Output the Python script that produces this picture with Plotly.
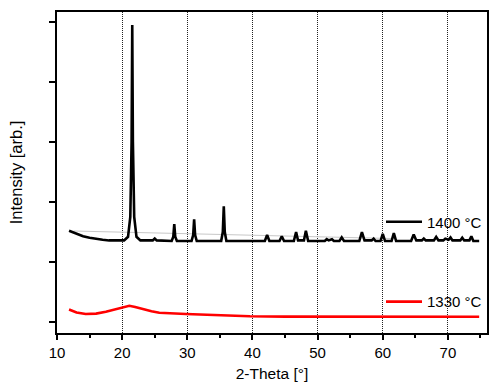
import plotly.graph_objects as go

# 1400 °C pattern (2-theta in degrees, intensity arb.)
x_1400 = [11.85, 13, 14, 15, 16, 17, 18, 19, 20.3, 20.9, 21.25, 21.45, 21.55, 21.65, 21.85, 22.2, 22.8,
          24.7, 25.0, 25.3, 27.6, 27.85, 28.0, 28.15, 28.4, 30.65, 30.9, 31.05, 31.2, 31.45,
          35.2, 35.45, 35.6, 35.75, 36.0, 41.9, 42.25, 42.6, 44.15, 44.5, 44.85, 46.35, 46.7, 47.0,
          47.9, 48.2, 48.55, 51.1, 51.4, 51.7, 52.2, 52.5, 53.35, 53.7, 54.05, 56.4, 56.8, 57.2,
          58.3, 58.6, 58.9, 59.65, 60.0, 60.35, 61.35, 61.7, 62.05, 64.35, 64.75, 65.15,
          66.0, 66.3, 66.6, 67.85, 68.2, 68.55, 69.3, 69.6, 69.9, 70.1, 70.4, 70.7,
          71.9, 72.2, 72.5, 73.3, 73.6, 73.9, 74.8]
y_1400 = [1.52, 1.47, 1.43, 1.405, 1.385, 1.37, 1.36, 1.355, 1.36, 1.42, 1.75, 3.0, 4.95, 3.0, 1.75, 1.42, 1.36,
          1.36, 1.39, 1.36, 1.35, 1.42, 1.63, 1.42, 1.35, 1.35, 1.45, 1.71, 1.45, 1.35,
          1.35, 1.5, 1.93, 1.5, 1.35, 1.35, 1.45, 1.35, 1.35, 1.43, 1.35, 1.35, 1.5, 1.36,
          1.36, 1.52, 1.35, 1.35, 1.38, 1.36, 1.38, 1.35, 1.35, 1.41, 1.35, 1.35, 1.50, 1.36,
          1.36, 1.39, 1.35, 1.35, 1.47, 1.35, 1.35, 1.48, 1.35, 1.35, 1.46, 1.36,
          1.36, 1.39, 1.36, 1.36, 1.42, 1.36, 1.36, 1.39, 1.37, 1.37, 1.41, 1.36,
          1.36, 1.405, 1.36, 1.36, 1.43, 1.35, 1.35]

# faint grey background line under the 1400 °C pattern
x_bg = [12.5, 62.0]
y_bg = [1.517, 1.39]

# 1330 °C pattern
x_1330 = [11.85, 13, 14.4, 16, 17.5, 19.5, 21.1, 22, 23.1, 24.5, 25.7, 27.5, 29.8, 33, 37, 39.6, 45, 55, 65, 74.8]
y_1330 = [0.21, 0.16, 0.133, 0.14, 0.17, 0.22, 0.27, 0.25, 0.217, 0.18, 0.155, 0.143, 0.133, 0.12, 0.105,
          0.095, 0.09, 0.088, 0.088, 0.088]

x_ticks = [10, 20, 30, 40, 50, 60, 70]
y_ticks = [0, 1, 2, 3, 4, 5]

FONT = "Arial, Liberation Sans, Helvetica, sans-serif"

fig = go.Figure()
fig.add_trace(go.Scatter(x=x_bg, y=y_bg, mode="lines", line=dict(color="#c8c8c8", width=1),
                         showlegend=False, hoverinfo="skip"))
fig.add_trace(go.Scatter(x=x_1400, y=y_1400, mode="lines", name="1400 °C",
                         line=dict(color="black", width=2.6), legend="legend"))
fig.add_trace(go.Scatter(x=x_1330, y=y_1330, mode="lines", name="1330 °C",
                         line=dict(color="#ff0000", width=2.6), legend="legend2"))

legend_common = dict(font=dict(family=FONT, size=15, color="black"), bgcolor="rgba(0,0,0,0)",
                     xanchor="right", yanchor="middle", itemwidth=36, borderwidth=0)

fig.update_layout(
    width=500, height=382,
    margin=dict(l=57, r=13, t=12, b=49),
    paper_bgcolor="white", plot_bgcolor="white",
    font=dict(family=FONT, size=15, color="black"),
    legend=dict(x=1.0, y=0.346, **legend_common),
    legend2=dict(x=1.0, y=0.097, **legend_common),
    xaxis=dict(
        range=[10, 76], tickvals=x_ticks, ticktext=[str(v) for v in x_ticks],
        ticks="outside", ticklen=5, tickwidth=1.5, tickcolor="black",
        minor=dict(dtick=5, tick0=0, ticks="outside", ticklen=3, tickwidth=1.5, tickcolor="black", showgrid=False),
        showline=True, linewidth=2, linecolor="black", mirror=True,
        showgrid=True, gridcolor="#222222", griddash="1px,1px", gridwidth=1,
        zeroline=False, automargin=False,
        title=dict(text="2-Theta [°]", font=dict(size=15.5), standoff=8),
        tickfont=dict(size=15),
    ),
    yaxis=dict(
        range=[-0.183, 5.167], tickvals=y_ticks, showticklabels=False,
        ticks="outside", ticklen=6, tickwidth=1.5, tickcolor="black",
        showline=True, linewidth=2, linecolor="black", mirror=True,
        showgrid=False, zeroline=False, automargin=False,
        title=dict(text="Intensity [arb.]", font=dict(size=16.5), standoff=22),
    ),
)

fig.write_html("out.html", config={"displayModeBar": False},
               post_script="document.body.style.margin='0';")
